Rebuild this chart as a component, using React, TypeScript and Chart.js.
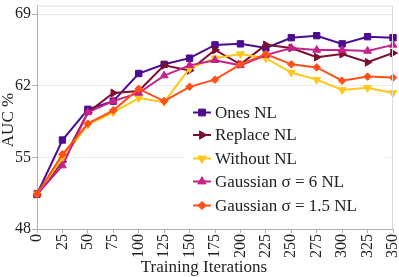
import React, { useEffect, useRef } from "react";
import { Chart, registerables } from "chart.js";
import { drawPoint } from "chart.js/helpers";

Chart.register(...registerables);

const iterations = [0, 25, 50, 75, 100, 125, 150, 175, 200, 225, 250, 275, 300, 325, 350];
const onesNL = [51.4, 56.7, 59.7, 60.5, 63.2, 64.1, 64.7, 66.0, 66.1, 65.7, 66.7, 66.9, 66.1, 66.8, 66.7];
const replaceNL = [51.4, 54.6, 59.4, 61.3, 61.5, 64.0, 63.5, 65.5, 64.1, 66.0, 65.7, 64.8, 65.1, 64.3, 65.2];
const withoutNL = [51.4, 54.9, 58.2, 59.4, 60.8, 60.4, 63.7, 64.7, 65.1, 64.7, 63.3, 62.6, 61.6, 61.8, 61.3];
const gaussian6NL = [51.4, 54.2, 59.4, 60.5, 61.3, 63.0, 64.0, 64.5, 64.0, 65.0, 65.7, 65.5, 65.5, 65.4, 66.0];
const gaussian15NL = [51.4, 55.3, 58.3, 59.6, 61.7, 60.5, 61.9, 62.6, 64.1, 65.1, 64.1, 63.8, 62.5, 62.9, 62.8];
const yTicks = [48, 55, 62, 69];

const seriesNames = ["Ones NL", "Replace NL", "Without NL", "Gaussian σ = 6 NL", "Gaussian σ = 1.5 NL"];
const seriesData = [onesNL, replaceNL, withoutNL, gaussian6NL, gaussian15NL];
const seriesColors = ["#4b0c91", "#7b0f30", "#ffc61a", "#c5228d", "#ff5019"];
const seriesStyles = ["rect", "triangle", "triangle", "triangle", "rectRot"];
const seriesRotation = [0, 90, 180, 0, 0];
const seriesRadius = [4.5, 4.5, 4.5, 4.5, 3.8];

const FONT = "'Liberation Serif', 'Times New Roman', serif";

const overlayPlugin = {
  id: "overlay",
  afterDraw(chart: any) {
    const ctx = chart.ctx;
    const ca = chart.chartArea;
    ctx.save();
    // top & right border
    ctx.strokeStyle = "#dcdcdc";
    ctx.lineWidth = 1;
    ctx.beginPath();
    ctx.moveTo(ca.left, ca.top + 0.5);
    ctx.lineTo(ca.right - 0.5, ca.top + 0.5);
    ctx.lineTo(ca.right - 0.5, ca.bottom);
    ctx.stroke();

    // legend box
    const bx = 185, by = 100, bw = 200, bh = 118;
    ctx.fillStyle = "#ffffff";
    ctx.fillRect(bx, by, bw, bh);
    const rowY = [112.5, 135, 158.5, 181.5, 205.5];
    for (let i = 0; i < seriesNames.length; i++) {
      const y = rowY[i];
      ctx.strokeStyle = seriesColors[i];
      ctx.lineWidth = 2;
      ctx.beginPath();
      ctx.moveTo(193, y);
      ctx.lineTo(211, y);
      ctx.stroke();
      ctx.fillStyle = seriesColors[i];
      ctx.strokeStyle = seriesColors[i];
      ctx.lineWidth = 1;
      drawPoint(ctx, {
        pointStyle: seriesStyles[i],
        rotation: seriesRotation[i],
        radius: seriesRadius[i] + 0.3,
        borderWidth: 1,
      }, 202, y);
      ctx.fillStyle = "#222222";
      ctx.font = `17px ${FONT}`;
      ctx.textAlign = "left";
      ctx.textBaseline = "middle";
      ctx.fillText(seriesNames[i], 215, y + 1);
    }

    // axis titles
    ctx.fillStyle = "#222222";
    ctx.font = `17px ${FONT}`;
    ctx.textAlign = "center";
    ctx.textBaseline = "middle";
    ctx.fillText("Training Iterations", 204, 268);
    ctx.translate(9, 120);
    ctx.rotate(-Math.PI / 2);
    ctx.fillText("AUC %", 0, 0);
    ctx.restore();
  },
};

export default function App() {
  const canvasRef = useRef<HTMLCanvasElement | null>(null);

  useEffect(() => {
    document.body.style.margin = "0";
    const canvas = canvasRef.current;
    if (!canvas) return;
    const datasets = seriesNames.map((name, i) => ({
      label: name,
      data: seriesData[i],
      borderColor: seriesColors[i],
      backgroundColor: seriesColors[i],
      borderWidth: 2,
      pointStyle: seriesStyles[i],
      pointRotation: seriesRotation[i],
      pointRadius: seriesRadius[i],
      pointBorderWidth: 1,
      pointBorderColor: seriesColors[i],
      pointBackgroundColor: seriesColors[i],
      tension: 0,
      clip: false as any,
      order: seriesNames.length - i,
    }));
    const chart = new Chart(canvas, {
      type: "line",
      data: { labels: iterations.map(String), datasets },
      plugins: [overlayPlugin],
      options: {
        animation: false,
        responsive: false,
        maintainAspectRatio: false,
        layout: { padding: { top: 1, right: 6, left: 0, bottom: 0 } },
        plugins: { legend: { display: false }, tooltip: { enabled: false } },
        scales: {
          x: {
            type: "category",
            offset: false,
            afterFit: (s: any) => {
              s.height = 48;
              s.paddingLeft = 0;
              s.paddingRight = 0;
            },
            grid: { drawOnChartArea: false, drawTicks: true, tickLength: 4, color: "#b0b0b0" },
            border: { display: true, color: "#b0b0b0", width: 1 },
            ticks: {
              autoSkip: false,
              maxRotation: 90,
              minRotation: 90,
              padding: 1,
              color: "#222222",
              font: { family: FONT, size: 16 },
            },
          },
          y: {
            min: 48,
            max: 69.85,
            afterFit: (s: any) => {
              s.width = 37;
              s.paddingTop = 0;
              s.paddingBottom = 0;
            },
            afterBuildTicks: (s: any) => { s.ticks = yTicks.map((v) => ({ value: v })); },
            grid: { color: "#ebebeb", tickColor: "#b0b0b0", tickLength: 5, drawTicks: true },
            border: { display: true, color: "#b0b0b0", width: 1 },
            ticks: {
              padding: 1,
              color: "#222222",
              font: { family: FONT, size: 16 },
            },
          },
        },
      },
    });
    return () => chart.destroy();
  }, []);

  return (
    <div style={{ width: 399, height: 277 }}>
      <canvas ref={canvasRef} width={399} height={277} />
    </div>
  );
}
